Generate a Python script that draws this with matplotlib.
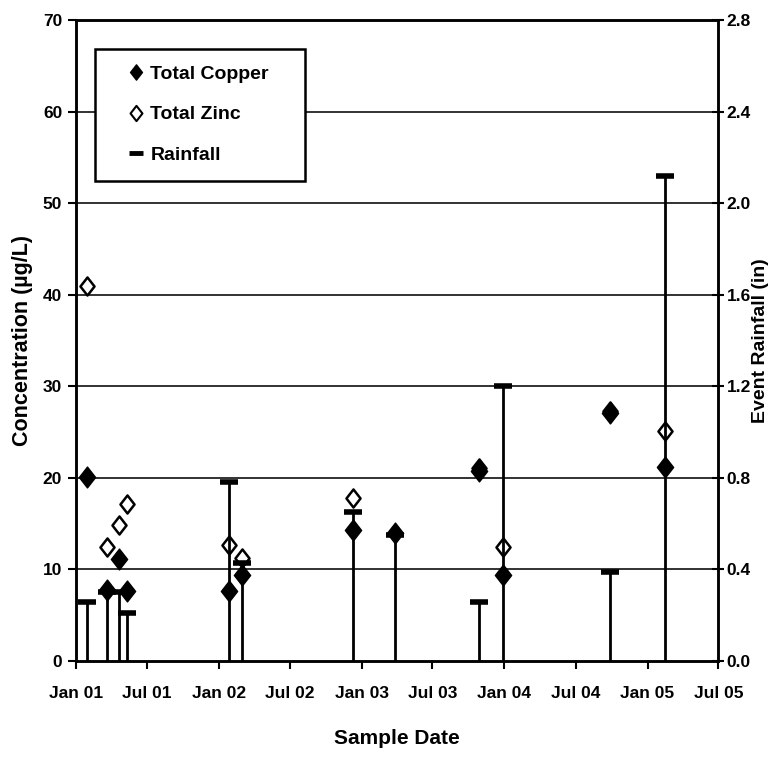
import numpy as np
import pandas as pd
import matplotlib
matplotlib.use("Agg")
import matplotlib.pyplot as plt
import matplotlib.dates as mdates
from matplotlib.lines import Line2D
from matplotlib.path import Path

plt.rcParams["font.family"] = ["Liberation Sans", "DejaVu Sans"]
plt.rcParams["font.weight"] = "bold"

# sample dates and values
sample_dates = pd.to_datetime([
    "2001-01-30", "2001-03-22", "2001-04-20", "2001-05-11",
    "2002-01-28", "2002-03-01", "2002-12-11", "2003-03-28",
    "2003-10-29", "2003-12-28", "2004-09-27", "2005-02-15",
])
copper = [20.1, 7.8, 11.1, 7.6, 7.6, 9.4, 14.3, 14.0, 20.7, 9.4, 27.1, 21.2]
zinc = [41.0, 12.5, 14.9, 17.1, 12.7, 11.2, 17.8, np.nan, 21.1, 12.5, 27.3, 25.1]
rainfall = [0.26, 0.30, 0.30, 0.21, 0.78, 0.43, 0.65, 0.55, 0.26, 1.20, 0.39, 2.12]

conc_ticks = np.arange(0, 71, 10)
rain_ticks = np.arange(0, 2.81, 0.4)

# diamond a bit wider than matplotlib's thin diamond
diamond = Path([(0, 1), (0.78, 0), (0, -1), (-0.78, 0), (0, 1)],
               [Path.MOVETO, Path.LINETO, Path.LINETO, Path.LINETO, Path.CLOSEPOLY])

fig = plt.figure(figsize=(7.72, 7.66), dpi=100)
ax = fig.add_axes([0.0985, 0.137, 0.832, 0.837])
ax2 = ax.twinx()

for v in conc_ticks[1:-1]:
    ax.axhline(v, color="#222222", lw=1.3, zorder=0)

ax.plot(sample_dates, zinc, linestyle="none", marker=diamond, ms=13,
        mfc="none", mec="black", mew=1.8, zorder=3)
ax.plot(sample_dates, copper, linestyle="none", marker=diamond, ms=15,
        mfc="black", mec="black", zorder=4)

ax2.vlines(sample_dates, 0, rainfall, color="black", lw=2)
ax2.plot(sample_dates, rainfall, linestyle="none", marker="_", ms=13,
         mew=4, color="black")

ax.set_xlim(pd.Timestamp("2001-01-01"), pd.Timestamp("2005-07-01"))
ax.set_ylim(0, 70)
ax2.set_ylim(0, 2.8)
ax.set_yticks(conc_ticks)
ax2.set_yticks(rain_ticks)
ax2.set_yticklabels([f"{t:.1f}" for t in rain_ticks])

ax.xaxis.set_major_locator(mdates.MonthLocator(bymonth=(1, 7)))
ax.xaxis.set_major_formatter(mdates.DateFormatter("%b %y"))

ax.tick_params(axis="both", labelsize=12.5, width=1.5, length=6, direction="out")
ax.tick_params(axis="x", pad=12)
ax.tick_params(axis="y", pad=4)
ax2.tick_params(axis="y", labelsize=12.5, width=1.5, length=8, direction="inout", pad=2)

for a in (ax, ax2):
    for s in a.spines.values():
        s.set_linewidth(1.8)

ax.set_xlabel("Sample Date", fontsize=15, fontweight="bold", labelpad=20)
ax.set_ylabel("Concentration (µg/L)", fontsize=15.5, fontweight="bold")
ax.yaxis.set_label_coords(-0.067, 0.5)
ax2.set_ylabel("Event Rainfall (in)", fontsize=14, fontweight="bold",
               rotation=90, labelpad=1)

handles = [
    Line2D([], [], linestyle="none", marker=diamond, ms=11, mfc="black", mec="black"),
    Line2D([], [], linestyle="none", marker=diamond, ms=11, mfc="none", mec="black", mew=1.5),
    Line2D([], [], linestyle="none", marker="_", ms=10, mew=3.5, color="black"),
]
leg = ax2.legend(handles, ["Total Copper", "Total Zinc", "Rainfall"],
                 loc="upper left", bbox_to_anchor=(0.0296, 0.955, 0.327, 0.0),
                 mode="expand", fontsize=14, frameon=True, fancybox=False,
                 edgecolor="black", handlelength=2.53, handletextpad=-0.54,
                 labelspacing=1.18, borderpad=0.85, borderaxespad=0)
leg.get_frame().set_linewidth(1.8)
leg.get_frame().set_alpha(1)
for t in leg.get_texts():
    t.set_fontweight("bold")

fig.savefig("out.png", dpi=100)
